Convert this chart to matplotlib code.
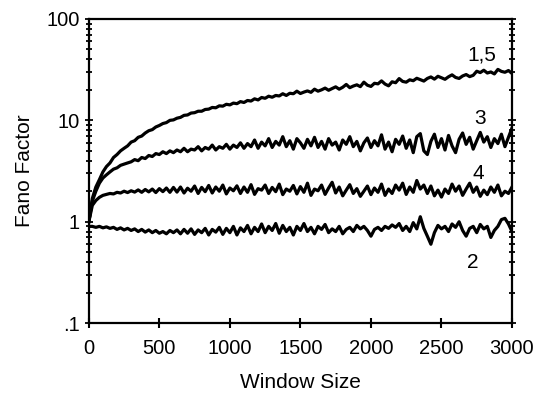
import numpy as np
import matplotlib.pyplot as plt

plt.rcParams['font.family'] = ['Liberation Sans', 'DejaVu Sans']

# window sizes 0..3000, step 25
step = 25

# curve "1,5"
fano_15 = [1.0, 1.7, 2.2, 2.6, 3.1, 3.5, 3.8, 4.3, 4.6, 5.0, 5.3, 5.6, 6.1, 6.3, 6.8, 7.0,
           7.5, 7.9, 8.1, 8.6, 8.9, 9.3, 9.5, 10.0, 10.1, 10.5, 10.7, 11.2, 11.3, 11.8, 11.9,
           12.3, 12.3, 12.8, 12.9, 13.4, 13.3, 13.9, 13.8, 14.4, 14.2, 14.8, 14.6, 15.3, 15.0,
           15.7, 15.5, 16.3, 15.9, 16.8, 16.5, 17.3, 16.9, 17.6, 17.4, 18.3, 17.6, 18.5, 18.3,
           19.4, 18.4, 19.0, 19.5, 18.9, 20.3, 19.4, 20.0, 20.8, 19.8, 20.6, 21.4, 20.3, 21.2,
           22.6, 21.0, 21.8, 22.4, 21.5, 23.8, 22.2, 21.6, 23.2, 22.9, 24.5, 22.8, 21.9, 24.0,
           23.5, 25.8, 24.2, 23.8, 25.1, 24.6, 26.0, 25.2, 24.4, 25.9, 26.8, 25.5, 27.2, 26.3,
           25.4, 26.9, 28.1, 26.5, 25.9, 27.4, 28.3, 27.0, 27.8, 30.5, 29.6, 31.2, 29.3, 30.0,
           28.7, 31.8, 30.4, 29.8, 31.0, 29.0]

# curve "3"
fano_3 = [1.0, 1.6, 2.0, 2.4, 2.7, 2.9, 3.1, 3.3, 3.4, 3.6, 3.7, 3.8, 3.9, 4.1, 4.0, 4.3,
          4.2, 4.5, 4.4, 4.7, 4.6, 4.9, 4.7, 5.0, 4.8, 5.1, 4.9, 5.3, 4.9, 5.2, 5.1, 5.5, 5.0,
          5.4, 5.2, 5.7, 5.1, 5.5, 5.3, 5.8, 5.2, 5.7, 5.4, 6.0, 5.3, 5.9, 5.5, 6.4, 5.3, 6.1,
          5.6, 6.6, 5.4, 6.2, 5.7, 6.9, 5.5, 6.3, 5.2, 6.6, 6.0, 5.3, 6.5, 5.6, 6.8, 5.4, 6.2,
          5.2, 6.6, 5.7, 6.1, 5.1, 6.4, 5.8, 6.9, 5.5, 6.2, 5.0, 6.0, 6.7, 5.4, 6.3, 5.6, 7.2,
          5.2, 6.1, 4.9, 6.5, 5.8, 7.0, 5.3, 6.4, 4.8, 6.9, 7.4, 5.0, 4.6, 6.2, 7.3, 5.4, 6.6,
          5.1, 7.1, 5.6, 4.8, 6.5, 7.5, 5.8, 6.8, 5.2, 6.3, 7.6, 6.1, 6.9, 5.4, 6.6, 5.9, 7.3,
          5.5, 6.8, 8.4]

# curve "4"
fano_4 = [1.0, 1.45, 1.62, 1.74, 1.82, 1.86, 1.9, 1.88, 1.95, 1.92, 2.0, 1.94, 2.02, 1.96,
          2.06, 1.95, 2.08, 1.97, 2.1, 1.94, 2.12, 1.98, 2.15, 1.95, 2.18, 1.96, 2.2, 1.92,
          2.14, 2.0, 2.25, 1.9, 2.18, 1.98, 2.28, 1.92, 2.2, 2.0, 2.3, 1.88, 2.15, 2.02, 2.26,
          1.9, 2.2, 1.95, 2.32, 1.86, 2.12, 2.05, 2.3, 1.9, 2.18, 1.98, 2.35, 1.85, 2.1, 2.0,
          2.28, 1.88, 2.22, 1.95, 2.4, 1.82, 2.1, 2.02, 2.3, 1.86, 2.15, 2.45, 1.92, 2.2, 1.8,
          2.05, 2.32, 1.9, 2.12, 1.78, 2.0, 2.25, 1.85, 2.15, 1.95, 2.35, 1.82, 2.1, 1.9, 2.3,
          2.05, 2.4, 1.86, 2.2, 1.95, 2.55, 2.1, 2.3, 1.9, 2.25, 1.8, 2.05, 1.75, 2.1, 1.9,
          2.35, 2.0, 2.25, 1.82, 2.1, 2.4, 1.95, 2.2, 1.78, 2.05, 1.85, 2.2, 1.95, 2.3, 1.8,
          2.0, 1.9, 2.2]

# curve "2"
fano_2 = [0.9, 0.9, 0.88, 0.9, 0.87, 0.89, 0.86, 0.88, 0.84, 0.87, 0.83, 0.86, 0.82, 0.85,
          0.8, 0.84, 0.79, 0.83, 0.78, 0.82, 0.77, 0.8, 0.76, 0.82, 0.78, 0.83, 0.76, 0.84,
          0.77, 0.85, 0.75, 0.83, 0.78, 0.86, 0.74, 0.84, 0.79, 0.88, 0.75, 0.86, 0.78, 0.9,
          0.74, 0.87, 0.8, 0.92, 0.76, 0.88, 0.8, 0.95, 0.78, 0.9, 0.82, 0.96, 0.77, 0.92, 0.8,
          0.88, 0.74, 0.9, 0.82, 0.96, 0.8, 0.88, 0.76, 0.9, 0.84, 0.94, 0.78, 0.85, 0.8, 0.9,
          0.76, 0.84, 0.88, 0.8, 0.92, 0.85, 0.9, 0.82, 0.72, 0.84, 0.88, 0.82, 0.9, 0.86, 0.93,
          0.88, 0.96, 0.82, 0.9, 0.8, 0.98, 0.85, 1.12, 0.86, 0.72, 0.6, 0.78, 0.92, 0.85, 0.9,
          0.8, 0.95, 0.88, 1.0, 0.82, 0.72, 0.86, 0.9, 0.78, 0.94, 0.85, 0.9, 0.7, 0.82, 0.9,
          1.05, 1.08, 0.95, 0.8]

labels = ['1,5', '3', '4', '2']
label_x = [2787, 2773, 2759, 2723]
label_y = [44, 10.5, 3.0, 0.40]

series = [fano_15, fano_3, fano_4, fano_2]

fig = plt.figure(figsize=(5.35, 3.95), dpi=100)
ax = fig.add_axes([0.166, 0.182, 0.791, 0.770])

for vals in series:
    x = np.arange(len(vals)) * step
    ax.plot(x, vals, color='black', lw=2.3, solid_joinstyle='round')

for lab, lx, ly in zip(labels, label_x, label_y):
    ax.text(lx, ly, lab, ha='center', va='center', fontsize=15)

ax.set_yscale('log')
ax.set_xlim(0, 3000)
ax.set_ylim(0.1, 100)
ax.set_xticks([0, 500, 1000, 1500, 2000, 2500, 3000])
ax.set_yticks([0.1, 1, 10, 100])
ax.set_yticklabels(['.1', '1', '10', '100'])
ax.tick_params(axis='x', which='major', direction='inout', length=7, width=1.5,
               labelsize=14.5, pad=8)
ax.tick_params(axis='y', which='both', direction='inout', right=True, width=1.3,
               labelsize=14.5)
ax.tick_params(axis='y', which='major', length=6)
ax.tick_params(axis='y', which='minor', length=5)
ax.minorticks_off()
ax.yaxis.set_minor_locator(plt.matplotlib.ticker.LogLocator(base=10, subs=np.arange(2, 10)))
ax.yaxis.set_minor_formatter(plt.NullFormatter())
for sp in ax.spines.values():
    sp.set_linewidth(1.6)

ax.set_xlabel('Window Size', fontsize=15, labelpad=11)
ax.set_ylabel('Fano Factor', fontsize=15, labelpad=9)

fig.savefig('out.png', dpi=100)
